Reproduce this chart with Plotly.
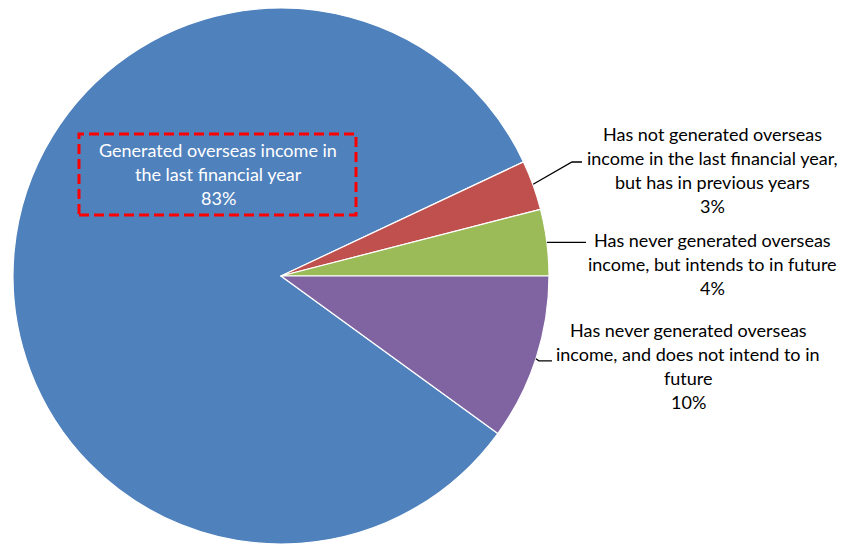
import math
import plotly.graph_objects as go

# Share of businesses by overseas income status
labels = [
    "Generated overseas income in the last financial year",
    "Has not generated overseas income in the last financial year, but has in previous years",
    "Has never generated overseas income, but intends to in future",
    "Has never generated overseas income, and does not intend to in future",
]
values = [83, 3, 4, 10]
colors = ["#4F81BD", "#C0504D", "#9BBB59", "#8064A2"]

# Label text, one entry per line
label_lines = [
    ["Generated overseas income in", "the last financial year", "83%"],
    ["Has not generated overseas", "income in the last financial year,", "but has in previous years", "3%"],
    ["Has never generated overseas", "income, but intends to in future", "4%"],
    ["Has never generated overseas", "income, and does not intend to in", "future", "10%"],
]

W, H = 843, 544
CX, CY, R = 281, 276, 268
ROTATION = 126  # clockwise from 12 o'clock, where the first slice starts

FONT = "Lato"
FS = 18
LINE_H = 24

fig = go.Figure(
    go.Pie(
        labels=labels,
        values=values,
        sort=False,
        direction="clockwise",
        rotation=ROTATION,
        marker=dict(colors=colors, line=dict(color="white", width=1.2)),
        textinfo="none",
        hoverinfo="label+percent",
        domain=dict(x=[(CX - R) / W, (CX + R) / W], y=[0, (2 * R) / H]),
        showlegend=False,
    )
)


def px_to_paper(x, y):
    return x / W, 1 - y / H


def slice_mid_point(i, radius=R):
    total = sum(values)
    start = ROTATION + 360 * sum(values[:i]) / total
    mid = start + 180 * values[i] / total
    a = math.radians(mid)
    return CX + radius * math.sin(a), CY - radius * math.cos(a)


annotations = []
shapes = []


def add_lines(lines, cx, y0, color):
    for k, t in enumerate(lines):
        x, y = px_to_paper(cx, y0 + k * LINE_H)
        annotations.append(
            dict(
                x=x, y=y, xref="paper", yref="paper", text=t, showarrow=False,
                xanchor="center", yanchor="middle",
                font=dict(family=FONT, size=FS, color=color),
            )
        )


def add_path(points):
    pts = [px_to_paper(x, y) for x, y in points]
    path = "M " + " L ".join(f"{x},{y}" for x, y in pts)
    shapes.append(dict(type="path", xref="paper", yref="paper", path=path,
                       line=dict(color="black", width=1.3)))


# Label inside the large slice, with dashed highlight box
add_lines(label_lines[0], 218, 150, "white")
bx0, by0 = px_to_paper(79, 134)
bx1, by1 = px_to_paper(356, 215)
shapes.append(dict(type="rect", xref="paper", yref="paper",
                   x0=bx0, y0=by1, x1=bx1, y1=by0,
                   line=dict(color="#FF0000", width=3, dash="10px,5px")))

# Outside labels with leader lines
add_lines(label_lines[1], 712, 134, "black")
sx, sy = slice_mid_point(1)
add_path([(sx, sy - 1), (572, 162), (582, 162)])

add_lines(label_lines[2], 712, 240, "black")
sx, sy = slice_mid_point(2)
add_path([(sx, sy), (586, sy)])

add_lines(label_lines[3], 688, 330, "black")
sx, sy = slice_mid_point(3)
add_path([(sx, sy), (sx + 3, sy + 2), (552, sy + 2)])

fig.update_layout(
    width=W,
    height=H,
    margin=dict(l=0, r=0, t=0, b=0),
    paper_bgcolor="white",
    plot_bgcolor="white",
    annotations=annotations,
    shapes=shapes,
)

fig.write_html("out.html")
